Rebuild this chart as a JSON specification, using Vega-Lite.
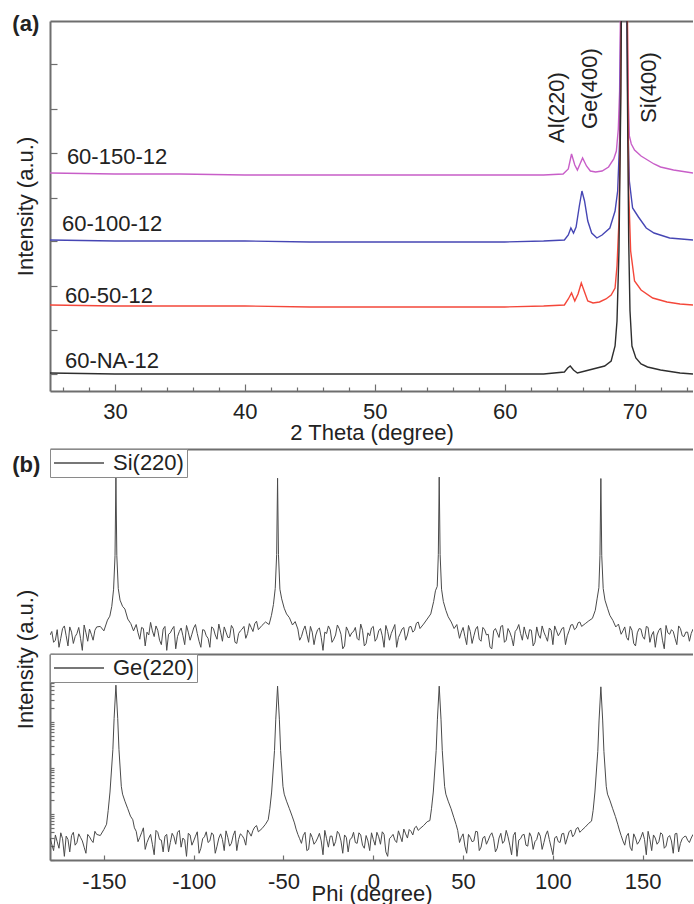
{
  "$schema": "https://vega.github.io/schema/vega-lite/v6.json",
  "padding": {"left": 12, "top": 12, "right": 0, "bottom": 0},
  "spacing": 5,
  "datasets": {
    "xrd": [
      {"s":"60-150-12","tt":25,"i":218},{"s":"60-150-12","tt":30,"i":217},{"s":"60-150-12","tt":35,"i":217},{"s":"60-150-12","tt":40,"i":216},{"s":"60-150-12","tt":45,"i":216},{"s":"60-150-12","tt":50,"i":216},{"s":"60-150-12","tt":55,"i":216},{"s":"60-150-12","tt":60,"i":216},{"s":"60-150-12","tt":63,"i":216},{"s":"60-150-12","tt":64.5,"i":217},{"s":"60-150-12","tt":64.9,"i":222},{"s":"60-150-12","tt":65.15,"i":237},{"s":"60-150-12","tt":65.4,"i":226},{"s":"60-150-12","tt":65.6,"i":221},{"s":"60-150-12","tt":65.8,"i":227},{"s":"60-150-12","tt":66.0,"i":233},{"s":"60-150-12","tt":66.3,"i":225},{"s":"60-150-12","tt":66.6,"i":220},{"s":"60-150-12","tt":67,"i":219},{"s":"60-150-12","tt":67.5,"i":220},{"s":"60-150-12","tt":68,"i":224},{"s":"60-150-12","tt":68.4,"i":232},{"s":"60-150-12","tt":68.6,"i":240},{"s":"60-150-12","tt":68.75,"i":262},{"s":"60-150-12","tt":68.85,"i":300},{"s":"60-150-12","tt":68.95,"i":420},{"s":"60-150-12","tt":69.05,"i":520},{"s":"60-150-12","tt":69.3,"i":520},{"s":"60-150-12","tt":69.4,"i":420},{"s":"60-150-12","tt":69.5,"i":300},{"s":"60-150-12","tt":69.6,"i":255},{"s":"60-150-12","tt":69.75,"i":247},{"s":"60-150-12","tt":70,"i":241},{"s":"60-150-12","tt":70.5,"i":235},{"s":"60-150-12","tt":71,"i":231},{"s":"60-150-12","tt":71.5,"i":227},{"s":"60-150-12","tt":72,"i":224},{"s":"60-150-12","tt":73,"i":221},{"s":"60-150-12","tt":74.5,"i":218},
      {"s":"60-100-12","tt":25,"i":151},{"s":"60-100-12","tt":30,"i":150},{"s":"60-100-12","tt":35,"i":150},{"s":"60-100-12","tt":40,"i":150},{"s":"60-100-12","tt":45,"i":149},{"s":"60-100-12","tt":50,"i":149},{"s":"60-100-12","tt":55,"i":149},{"s":"60-100-12","tt":60,"i":149},{"s":"60-100-12","tt":63,"i":150},{"s":"60-100-12","tt":64.6,"i":151},{"s":"60-100-12","tt":64.9,"i":156},{"s":"60-100-12","tt":65.1,"i":163},{"s":"60-100-12","tt":65.3,"i":158},{"s":"60-100-12","tt":65.5,"i":164},{"s":"60-100-12","tt":65.75,"i":185},{"s":"60-100-12","tt":65.95,"i":200},{"s":"60-100-12","tt":66.15,"i":190},{"s":"60-100-12","tt":66.4,"i":170},{"s":"60-100-12","tt":66.7,"i":158},{"s":"60-100-12","tt":67.1,"i":153},{"s":"60-100-12","tt":67.5,"i":156},{"s":"60-100-12","tt":68.1,"i":163},{"s":"60-100-12","tt":68.5,"i":180},{"s":"60-100-12","tt":68.7,"i":200},{"s":"60-100-12","tt":68.85,"i":250},{"s":"60-100-12","tt":68.95,"i":380},{"s":"60-100-12","tt":69.05,"i":520},{"s":"60-100-12","tt":69.3,"i":520},{"s":"60-100-12","tt":69.4,"i":400},{"s":"60-100-12","tt":69.5,"i":260},{"s":"60-100-12","tt":69.6,"i":210},{"s":"60-100-12","tt":69.85,"i":183},{"s":"60-100-12","tt":70.3,"i":174},{"s":"60-100-12","tt":70.9,"i":163},{"s":"60-100-12","tt":71.5,"i":158},{"s":"60-100-12","tt":72.7,"i":153},{"s":"60-100-12","tt":74.5,"i":151},
      {"s":"60-50-12","tt":25,"i":86},{"s":"60-50-12","tt":30,"i":85},{"s":"60-50-12","tt":35,"i":85},{"s":"60-50-12","tt":40,"i":85},{"s":"60-50-12","tt":45,"i":84},{"s":"60-50-12","tt":50,"i":84},{"s":"60-50-12","tt":55,"i":84},{"s":"60-50-12","tt":60,"i":84},{"s":"60-50-12","tt":63,"i":85},{"s":"60-50-12","tt":64.6,"i":86},{"s":"60-50-12","tt":64.9,"i":92},{"s":"60-50-12","tt":65.15,"i":98},{"s":"60-50-12","tt":65.4,"i":90},{"s":"60-50-12","tt":65.65,"i":97},{"s":"60-50-12","tt":65.9,"i":108},{"s":"60-50-12","tt":66.15,"i":99},{"s":"60-50-12","tt":66.4,"i":90},{"s":"60-50-12","tt":66.8,"i":88},{"s":"60-50-12","tt":67.3,"i":89},{"s":"60-50-12","tt":67.8,"i":92},{"s":"60-50-12","tt":68.2,"i":96},{"s":"60-50-12","tt":68.5,"i":103},{"s":"60-50-12","tt":68.65,"i":125},{"s":"60-50-12","tt":68.8,"i":170},{"s":"60-50-12","tt":68.9,"i":260},{"s":"60-50-12","tt":69.0,"i":420},{"s":"60-50-12","tt":69.1,"i":520},{"s":"60-50-12","tt":69.35,"i":520},{"s":"60-50-12","tt":69.45,"i":380},{"s":"60-50-12","tt":69.55,"i":200},{"s":"60-50-12","tt":69.7,"i":140},{"s":"60-50-12","tt":70,"i":110},{"s":"60-50-12","tt":70.5,"i":101},{"s":"60-50-12","tt":71.4,"i":93},{"s":"60-50-12","tt":72.5,"i":89},{"s":"60-50-12","tt":73.5,"i":87},{"s":"60-50-12","tt":74.5,"i":86},
      {"s":"60-NA-12","tt":25,"i":18},{"s":"60-NA-12","tt":30,"i":17},{"s":"60-NA-12","tt":35,"i":17},{"s":"60-NA-12","tt":40,"i":17},{"s":"60-NA-12","tt":45,"i":17},{"s":"60-NA-12","tt":50,"i":17},{"s":"60-NA-12","tt":55,"i":17},{"s":"60-NA-12","tt":60,"i":17},{"s":"60-NA-12","tt":63,"i":17},{"s":"60-NA-12","tt":64.6,"i":19},{"s":"60-NA-12","tt":64.85,"i":23},{"s":"60-NA-12","tt":65.05,"i":25},{"s":"60-NA-12","tt":65.3,"i":21},{"s":"60-NA-12","tt":65.6,"i":18},{"s":"60-NA-12","tt":66.2,"i":20},{"s":"60-NA-12","tt":67.1,"i":23},{"s":"60-NA-12","tt":67.7,"i":25},{"s":"60-NA-12","tt":68.2,"i":30},{"s":"60-NA-12","tt":68.5,"i":45},{"s":"60-NA-12","tt":68.65,"i":70},{"s":"60-NA-12","tt":68.8,"i":140},{"s":"60-NA-12","tt":68.95,"i":300},{"s":"60-NA-12","tt":69.05,"i":520},{"s":"60-NA-12","tt":69.35,"i":520},{"s":"60-NA-12","tt":69.45,"i":300},{"s":"60-NA-12","tt":69.55,"i":150},{"s":"60-NA-12","tt":69.65,"i":80},{"s":"60-NA-12","tt":69.8,"i":45},{"s":"60-NA-12","tt":70.1,"i":33},{"s":"60-NA-12","tt":70.5,"i":27},{"s":"60-NA-12","tt":71,"i":24},{"s":"60-NA-12","tt":72,"i":21},{"s":"60-NA-12","tt":73.5,"i":18},{"s":"60-NA-12","tt":74.5,"i":17}
    ],
    "names": [
      {"label":"60-150-12","tt":26.3,"i":227},
      {"label":"60-100-12","tt":25.92,"i":160},
      {"label":"60-50-12","tt":26.15,"i":88},
      {"label":"60-NA-12","tt":26.15,"i":23}
    ],
    "peaks": [
      {"label":"Al(220)","tt":64.0,"i":248},
      {"label":"Ge(400)","tt":66.54,"i":262},
      {"label":"Si(400)","tt":71.08,"i":268}
    ],
    "tagA": [{"label":"(a)","tt":22.1,"i":360}],
    "tagB": [{"label":"(b)","phi":-201,"c":9400}],
    "si": [
      {"phi":-180,"c":2.6},{"phi":-178,"c":1.8},{"phi":-176,"c":3.4},{"phi":-174,"c":2.2},{"phi":-172,"c":4.1},{"phi":-170,"c":1.5},{"phi":-168,"c":3.0},{"phi":-166,"c":2.4},{"phi":-164,"c":3.8},{"phi":-162,"c":1.2},{"phi":-160,"c":2.9},{"phi":-158,"c":3.5},{"phi":-156,"c":2.0},{"phi":-154,"c":3.9},
      {"phi":-152,"c":4.0},{"phi":-150,"c":3.2},{"phi":-148,"c":5.5},{"phi":-146.7,"c":6.7},{"phi":-145.6,"c":11},{"phi":-144.6,"c":26},{"phi":-143.8,"c":140},{"phi":-143.3,"c":7300},{"phi":-142.8,"c":140},{"phi":-142,"c":27},{"phi":-141,"c":15},{"phi":-139.6,"c":11},{"phi":-138.3,"c":9.6},{"phi":-136.7,"c":5.8},{"phi":-135,"c":4.6},{"phi":-133.5,"c":3.2},
      {"phi":-132,"c":4.4},{"phi":-130,"c":2.1},{"phi":-128,"c":3.6},{"phi":-126,"c":3.0},{"phi":-124,"c":4.9},{"phi":-122,"c":2.4},{"phi":-120,"c":3.3},{"phi":-118,"c":1.6},{"phi":-116,"c":4.0},{"phi":-114,"c":2.7},{"phi":-112,"c":3.5},{"phi":-110,"c":1.3},{"phi":-108,"c":3.1},{"phi":-106,"c":2.5},{"phi":-104,"c":4.2},{"phi":-102,"c":2.0},{"phi":-100,"c":3.7},{"phi":-98,"c":2.8},{"phi":-96,"c":1.4},{"phi":-94,"c":3.3},{"phi":-92,"c":2.2},{"phi":-90,"c":3.9},{"phi":-88,"c":2.6},{"phi":-86,"c":4.5},{"phi":-84,"c":1.9},{"phi":-82,"c":3.0},{"phi":-80,"c":2.3},{"phi":-78,"c":3.6},{"phi":-76,"c":1.7},{"phi":-74,"c":3.2},{"phi":-72,"c":4.0},{"phi":-70,"c":2.8},{"phi":-68,"c":3.8},{"phi":-66,"c":4.6},{"phi":-64,"c":3.4},
      {"phi":-62,"c":4.2},{"phi":-60,"c":5.0},{"phi":-58,"c":4.4},{"phi":-56.7,"c":7.0},{"phi":-55.6,"c":12},{"phi":-54.6,"c":27},{"phi":-53.8,"c":150},{"phi":-53.3,"c":6900},{"phi":-52.8,"c":150},{"phi":-52,"c":26},{"phi":-51,"c":16},{"phi":-49.6,"c":10},{"phi":-48.3,"c":7.5},{"phi":-46.7,"c":6.2},{"phi":-45,"c":4.3},{"phi":-43.5,"c":5.1},
      {"phi":-42,"c":3.5},{"phi":-40,"c":2.4},{"phi":-38,"c":4.1},{"phi":-36,"c":1.8},{"phi":-34,"c":3.0},{"phi":-32,"c":2.6},{"phi":-30,"c":3.7},{"phi":-28,"c":1.2},{"phi":-26,"c":2.8},{"phi":-24,"c":3.4},{"phi":-22,"c":2.1},{"phi":-20,"c":4.3},{"phi":-18,"c":2.7},{"phi":-16,"c":1.5},{"phi":-14,"c":3.2},{"phi":-12,"c":2.9},{"phi":-10,"c":3.8},{"phi":-8,"c":2.0},{"phi":-6,"c":3.3},{"phi":-4,"c":1.7},{"phi":-2,"c":2.5},{"phi":0,"c":4.0},{"phi":2,"c":2.2},{"phi":4,"c":3.6},{"phi":6,"c":1.4},{"phi":8,"c":3.1},{"phi":10,"c":2.8},{"phi":12,"c":4.4},{"phi":14,"c":2.3},{"phi":16,"c":3.5},{"phi":18,"c":2.0},{"phi":20,"c":3.9},{"phi":22,"c":3.0},{"phi":24,"c":4.7},{"phi":26,"c":3.6},
      {"phi":28,"c":4.5},{"phi":30,"c":5.8},{"phi":32,"c":7.5},{"phi":33.6,"c":14},{"phi":34.6,"c":24},{"phi":35.6,"c":30},{"phi":36.2,"c":150},{"phi":36.7,"c":7300},{"phi":37.2,"c":150},{"phi":38,"c":26},{"phi":39,"c":14},{"phi":40.4,"c":9},{"phi":41.7,"c":6.5},{"phi":43.4,"c":5.0},{"phi":45,"c":3.6},{"phi":46.5,"c":4.4},
      {"phi":48,"c":2.2},{"phi":50,"c":3.8},{"phi":52,"c":1.6},{"phi":54,"c":3.1},{"phi":56,"c":2.5},{"phi":58,"c":4.0},{"phi":60,"c":1.9},{"phi":62,"c":3.4},{"phi":64,"c":2.7},{"phi":66,"c":1.3},{"phi":68,"c":3.6},{"phi":70,"c":2.3},{"phi":72,"c":4.2},{"phi":74,"c":2.0},{"phi":76,"c":3.0},{"phi":78,"c":1.5},{"phi":80,"c":3.5},{"phi":82,"c":2.8},{"phi":84,"c":3.9},{"phi":86,"c":2.1},{"phi":88,"c":3.3},{"phi":90,"c":1.8},{"phi":92,"c":2.6},{"phi":94,"c":4.1},{"phi":96,"c":2.4},{"phi":98,"c":3.7},{"phi":100,"c":1.6},{"phi":102,"c":3.2},{"phi":104,"c":2.9},{"phi":106,"c":3.8},{"phi":108,"c":2.5},{"phi":110,"c":4.3},{"phi":112,"c":3.4},{"phi":114,"c":4.8},{"phi":116,"c":4.0},
      {"phi":118,"c":4.6},{"phi":120,"c":5.3},{"phi":122,"c":6.0},{"phi":123.6,"c":9},{"phi":124.6,"c":16},{"phi":125.6,"c":28},{"phi":126.2,"c":140},{"phi":126.7,"c":6800},{"phi":127.2,"c":140},{"phi":128,"c":27},{"phi":129,"c":15},{"phi":130.4,"c":10},{"phi":131.7,"c":7.0},{"phi":133.4,"c":5.4},{"phi":135,"c":3.9},{"phi":136.5,"c":4.5},
      {"phi":138,"c":2.7},{"phi":140,"c":3.9},{"phi":142,"c":2.0},{"phi":144,"c":3.3},{"phi":146,"c":1.5},{"phi":148,"c":3.6},{"phi":150,"c":2.4},{"phi":152,"c":4.0},{"phi":154,"c":1.8},{"phi":156,"c":3.1},{"phi":158,"c":2.6},{"phi":160,"c":3.7},{"phi":162,"c":1.3},{"phi":164,"c":2.9},{"phi":166,"c":3.4},{"phi":168,"c":2.2},{"phi":170,"c":4.1},{"phi":172,"c":2.5},{"phi":174,"c":3.0},{"phi":176,"c":1.9},{"phi":178,"c":3.5},
      {"phi":-179,"c":3.1},{"phi":-177,"c":2.0},{"phi":-175,"c":1.4},{"phi":-173,"c":3.6},{"phi":-171,"c":2.5},{"phi":-169,"c":3.9},{"phi":-167,"c":1.7},{"phi":-165,"c":2.8},{"phi":-163,"c":2.2},{"phi":-161,"c":4.3},{"phi":-159,"c":1.9},{"phi":-157,"c":2.7},{"phi":-155,"c":3.3},
      {"phi":-131,"c":2.9},{"phi":-129,"c":3.8},{"phi":-127,"c":1.5},{"phi":-125,"c":2.6},{"phi":-123,"c":3.2},{"phi":-121,"c":4.1},{"phi":-119,"c":2.0},{"phi":-117,"c":3.5},{"phi":-115,"c":1.2},{"phi":-113,"c":2.9},{"phi":-111,"c":4.0},{"phi":-109,"c":2.4},{"phi":-107,"c":3.7},{"phi":-105,"c":1.6},{"phi":-103,"c":3.0},{"phi":-101,"c":2.7},{"phi":-99,"c":4.4},{"phi":-97,"c":1.9},{"phi":-95,"c":3.4},{"phi":-93,"c":2.5},{"phi":-91,"c":1.4},{"phi":-89,"c":3.6},{"phi":-87,"c":2.1},{"phi":-85,"c":3.0},{"phi":-83,"c":3.9},{"phi":-81,"c":2.3},{"phi":-79,"c":4.2},{"phi":-77,"c":1.8},{"phi":-75,"c":2.8},{"phi":-73,"c":3.5},{"phi":-71,"c":2.2},{"phi":-69,"c":4.6},{"phi":-67,"c":3.1},{"phi":-65,"c":5.2},
      {"phi":-41,"c":2.0},{"phi":-39,"c":3.3},{"phi":-37,"c":2.7},{"phi":-35,"c":4.0},{"phi":-33,"c":1.6},{"phi":-31,"c":3.4},{"phi":-29,"c":2.3},{"phi":-27,"c":3.0},{"phi":-25,"c":4.1},{"phi":-23,"c":1.8},{"phi":-21,"c":2.6},{"phi":-19,"c":3.6},{"phi":-17,"c":1.3},{"phi":-15,"c":3.9},{"phi":-13,"c":2.4},{"phi":-11,"c":3.1},{"phi":-9,"c":2.2},{"phi":-7,"c":4.5},{"phi":-5,"c":1.5},{"phi":-3,"c":2.9},{"phi":-1,"c":3.7},{"phi":1,"c":1.9},{"phi":3,"c":3.2},{"phi":5,"c":2.5},{"phi":7,"c":4.2},{"phi":9,"c":2.0},{"phi":11,"c":3.5},{"phi":13,"c":1.4},{"phi":15,"c":2.8},{"phi":17,"c":3.8},{"phi":19,"c":2.6},{"phi":21,"c":4.0},{"phi":23,"c":3.3},{"phi":25,"c":5.0},
      {"phi":49,"c":3.0},{"phi":51,"c":2.4},{"phi":53,"c":4.2},{"phi":55,"c":1.7},{"phi":57,"c":3.5},{"phi":59,"c":2.1},{"phi":61,"c":3.8},{"phi":63,"c":2.6},{"phi":65,"c":1.4},{"phi":67,"c":3.2},{"phi":69,"c":2.9},{"phi":71,"c":4.0},{"phi":73,"c":1.8},{"phi":75,"c":3.6},{"phi":77,"c":2.3},{"phi":79,"c":3.1},{"phi":81,"c":4.4},{"phi":83,"c":2.0},{"phi":85,"c":2.7},{"phi":87,"c":3.4},{"phi":89,"c":1.5},{"phi":91,"c":3.9},{"phi":93,"c":2.2},{"phi":95,"c":3.0},{"phi":97,"c":1.9},{"phi":99,"c":3.3},{"phi":101,"c":4.1},{"phi":103,"c":2.5},{"phi":105,"c":3.6},{"phi":107,"c":1.6},{"phi":109,"c":3.2},{"phi":111,"c":4.4},{"phi":113,"c":3.7},{"phi":115,"c":5.0},
      {"phi":139,"c":3.2},{"phi":141,"c":2.3},{"phi":143,"c":4.0},{"phi":145,"c":1.7},{"phi":147,"c":2.9},{"phi":149,"c":3.5},{"phi":151,"c":2.1},{"phi":153,"c":3.8},{"phi":155,"c":2.6},{"phi":157,"c":1.4},{"phi":159,"c":3.3},{"phi":161,"c":2.0},{"phi":163,"c":4.2},{"phi":165,"c":2.7},{"phi":167,"c":3.1},{"phi":169,"c":1.6},{"phi":171,"c":3.6},{"phi":173,"c":2.4},{"phi":175,"c":3.0},{"phi":177,"c":2.8}
    ],
    "ge": [
      {"phi":-180,"c":3.0},{"phi":-178,"c":1.6},{"phi":-176,"c":2.5},{"phi":-174,"c":3.9},{"phi":-172,"c":1.2},{"phi":-170,"c":2.8},{"phi":-168,"c":3.4},{"phi":-166,"c":2.1},{"phi":-164,"c":3.7},{"phi":-162,"c":2.6},{"phi":-160,"c":1.4},{"phi":-158,"c":3.2},{"phi":-156,"c":2.4},{"phi":-154,"c":3.6},
      {"phi":-152,"c":3.4},{"phi":-150,"c":4.6},{"phi":-148.5,"c":6.0},{"phi":-147.6,"c":12},{"phi":-146.6,"c":30},{"phi":-145.0,"c":250},{"phi":-144.3,"c":1200},{"phi":-143.3,"c":6300},{"phi":-142.3,"c":1200},{"phi":-141.6,"c":250},{"phi":-140.3,"c":40},{"phi":-139.6,"c":27},{"phi":-138.3,"c":19},{"phi":-136.7,"c":13},{"phi":-135.2,"c":9},{"phi":-133.9,"c":7.5},{"phi":-133,"c":5.0},
      {"phi":-132,"c":4.2},{"phi":-130,"c":3.1},{"phi":-128,"c":5.0},{"phi":-126,"c":2.4},{"phi":-124,"c":3.6},{"phi":-122,"c":1.3},{"phi":-120,"c":4.0},{"phi":-118,"c":2.7},{"phi":-116,"c":3.3},{"phi":-114,"c":1.5},{"phi":-112,"c":3.8},{"phi":-110,"c":2.2},{"phi":-108,"c":4.4},{"phi":-106,"c":3.0},{"phi":-104,"c":1.2},{"phi":-102,"c":3.5},{"phi":-100,"c":2.6},{"phi":-98,"c":4.1},{"phi":-96,"c":1.8},{"phi":-94,"c":3.2},{"phi":-92,"c":2.4},{"phi":-90,"c":3.9},{"phi":-88,"c":1.4},{"phi":-86,"c":3.0},{"phi":-84,"c":2.8},{"phi":-82,"c":4.3},{"phi":-80,"c":2.0},{"phi":-78,"c":3.4},{"phi":-76,"c":1.6},{"phi":-74,"c":3.7},{"phi":-72,"c":2.9},{"phi":-70,"c":4.5},{"phi":-68,"c":3.3},{"phi":-66,"c":5.2},{"phi":-64,"c":4.1},
      {"phi":-62,"c":4.8},{"phi":-60,"c":6.0},{"phi":-58.5,"c":7.5},{"phi":-57.6,"c":13},{"phi":-56.6,"c":30},{"phi":-55.0,"c":240},{"phi":-54.3,"c":1150},{"phi":-53.3,"c":6000},{"phi":-52.3,"c":1150},{"phi":-51.6,"c":240},{"phi":-50.3,"c":40},{"phi":-49.6,"c":27},{"phi":-48.3,"c":19},{"phi":-46.7,"c":13},{"phi":-45.2,"c":9},{"phi":-43.9,"c":6.4},{"phi":-43,"c":4.7},
      {"phi":-42,"c":3.6},{"phi":-40,"c":2.3},{"phi":-38,"c":4.0},{"phi":-36,"c":1.7},{"phi":-34,"c":3.1},{"phi":-32,"c":2.5},{"phi":-30,"c":3.8},{"phi":-28,"c":1.3},{"phi":-26,"c":2.9},{"phi":-24,"c":3.3},{"phi":-22,"c":2.0},{"phi":-20,"c":4.2},{"phi":-18,"c":2.6},{"phi":-16,"c":3.5},{"phi":-14,"c":1.5},{"phi":-12,"c":3.0},{"phi":-10,"c":2.4},{"phi":-8,"c":3.9},{"phi":-6,"c":2.1},{"phi":-4,"c":3.4},{"phi":-2,"c":1.6},{"phi":0,"c":2.8},{"phi":2,"c":4.0},{"phi":4,"c":2.2},{"phi":6,"c":3.6},{"phi":8,"c":1.2},{"phi":10,"c":3.2},{"phi":12,"c":2.7},{"phi":14,"c":4.3},{"phi":16,"c":2.5},{"phi":18,"c":3.7},{"phi":20,"c":4.6},{"phi":22,"c":3.5},{"phi":24,"c":5.4},{"phi":26,"c":4.8},
      {"phi":28,"c":5.6},{"phi":30,"c":6.8},{"phi":31.5,"c":7.2},{"phi":32.4,"c":13},{"phi":33.4,"c":30},{"phi":35.0,"c":240},{"phi":35.7,"c":1150},{"phi":36.7,"c":6000},{"phi":37.7,"c":1150},{"phi":38.4,"c":240},{"phi":39.7,"c":40},{"phi":40.4,"c":27},{"phi":41.7,"c":19},{"phi":43.3,"c":13},{"phi":44.8,"c":8.5},{"phi":46.1,"c":5.9},{"phi":47,"c":4.4},
      {"phi":48,"c":2.4},{"phi":50,"c":3.7},{"phi":52,"c":1.4},{"phi":54,"c":3.1},{"phi":56,"c":2.6},{"phi":58,"c":4.1},{"phi":60,"c":1.9},{"phi":62,"c":3.3},{"phi":64,"c":2.7},{"phi":66,"c":3.9},{"phi":68,"c":1.5},{"phi":70,"c":3.0},{"phi":72,"c":2.3},{"phi":74,"c":4.4},{"phi":76,"c":2.1},{"phi":78,"c":3.4},{"phi":80,"c":1.2},{"phi":82,"c":2.9},{"phi":84,"c":3.6},{"phi":86,"c":2.0},{"phi":88,"c":3.2},{"phi":90,"c":2.5},{"phi":92,"c":4.0},{"phi":94,"c":1.7},{"phi":96,"c":3.5},{"phi":98,"c":2.8},{"phi":100,"c":1.3},{"phi":102,"c":3.3},{"phi":104,"c":2.4},{"phi":106,"c":3.8},{"phi":108,"c":3.0},{"phi":110,"c":4.5},{"phi":112,"c":3.6},{"phi":114,"c":5.1},{"phi":116,"c":4.4},
      {"phi":118,"c":5.2},{"phi":120,"c":6.3},{"phi":121.5,"c":7.0},{"phi":122.4,"c":12},{"phi":123.4,"c":30},{"phi":125.0,"c":230},{"phi":125.7,"c":1100},{"phi":126.7,"c":5800},{"phi":127.7,"c":1100},{"phi":128.4,"c":230},{"phi":129.7,"c":40},{"phi":130.4,"c":27},{"phi":131.7,"c":20},{"phi":133.3,"c":13},{"phi":134.8,"c":8.8},{"phi":136.1,"c":6.0},{"phi":137,"c":4.5},
      {"phi":138,"c":3.4},{"phi":140,"c":2.1},{"phi":142,"c":3.8},{"phi":144,"c":1.6},{"phi":146,"c":3.0},{"phi":148,"c":2.5},{"phi":150,"c":4.0},{"phi":152,"c":1.3},{"phi":154,"c":2.8},{"phi":156,"c":3.5},{"phi":158,"c":2.2},{"phi":160,"c":3.9},{"phi":162,"c":1.8},{"phi":164,"c":3.1},{"phi":166,"c":2.6},{"phi":168,"c":3.7},{"phi":170,"c":1.5},{"phi":172,"c":2.9},{"phi":174,"c":3.3},{"phi":176,"c":2.4},{"phi":178,"c":3.6},
      {"phi":-179,"c":2.2},{"phi":-177,"c":3.5},{"phi":-175,"c":1.8},{"phi":-173,"c":2.9},{"phi":-171,"c":3.3},{"phi":-169,"c":1.5},{"phi":-167,"c":4.0},{"phi":-165,"c":2.4},{"phi":-163,"c":3.1},{"phi":-161,"c":1.9},{"phi":-159,"c":3.6},{"phi":-157,"c":2.7},{"phi":-155,"c":4.2},
      {"phi":-131,"c":2.5},{"phi":-129,"c":3.9},{"phi":-127,"c":1.7},{"phi":-125,"c":3.0},{"phi":-123,"c":2.2},{"phi":-121,"c":4.4},{"phi":-119,"c":2.8},{"phi":-117,"c":1.5},{"phi":-115,"c":3.6},{"phi":-113,"c":2.4},{"phi":-111,"c":3.2},{"phi":-109,"c":4.0},{"phi":-107,"c":1.9},{"phi":-105,"c":2.7},{"phi":-103,"c":3.8},{"phi":-101,"c":2.1},{"phi":-99,"c":3.3},{"phi":-97,"c":1.4},{"phi":-95,"c":2.9},{"phi":-93,"c":4.1},{"phi":-91,"c":2.6},{"phi":-89,"c":3.5},{"phi":-87,"c":2.0},{"phi":-85,"c":3.7},{"phi":-83,"c":1.6},{"phi":-81,"c":3.1},{"phi":-79,"c":2.3},{"phi":-77,"c":4.3},{"phi":-75,"c":2.8},{"phi":-73,"c":3.4},{"phi":-71,"c":2.1},{"phi":-69,"c":3.9},{"phi":-67,"c":4.4},{"phi":-65,"c":5.6},
      {"phi":-41,"c":2.9},{"phi":-39,"c":3.4},{"phi":-37,"c":1.6},{"phi":-35,"c":3.8},{"phi":-33,"c":2.2},{"phi":-31,"c":3.0},{"phi":-29,"c":2.6},{"phi":-27,"c":4.4},{"phi":-25,"c":1.9},{"phi":-23,"c":3.3},{"phi":-21,"c":2.5},{"phi":-19,"c":3.7},{"phi":-17,"c":1.4},{"phi":-15,"c":3.1},{"phi":-13,"c":2.8},{"phi":-11,"c":4.0},{"phi":-9,"c":2.3},{"phi":-7,"c":3.5},{"phi":-5,"c":1.8},{"phi":-3,"c":2.6},{"phi":-1,"c":3.9},{"phi":1,"c":2.1},{"phi":3,"c":3.2},{"phi":5,"c":4.1},{"phi":7,"c":1.5},{"phi":9,"c":2.9},{"phi":11,"c":3.6},{"phi":13,"c":2.4},{"phi":15,"c":3.3},{"phi":17,"c":4.7},{"phi":19,"c":3.0},{"phi":21,"c":4.2},{"phi":23,"c":5.0},{"phi":25,"c":4.4},
      {"phi":49,"c":3.1},{"phi":51,"c":2.0},{"phi":53,"c":3.6},{"phi":55,"c":2.5},{"phi":57,"c":4.2},{"phi":59,"c":1.6},{"phi":61,"c":3.0},{"phi":63,"c":2.2},{"phi":65,"c":3.4},{"phi":67,"c":2.9},{"phi":69,"c":1.8},{"phi":71,"c":3.8},{"phi":73,"c":2.6},{"phi":75,"c":3.2},{"phi":77,"c":1.3},{"phi":79,"c":4.0},{"phi":81,"c":2.7},{"phi":83,"c":3.5},{"phi":85,"c":2.1},{"phi":87,"c":3.9},{"phi":89,"c":1.7},{"phi":91,"c":2.8},{"phi":93,"c":3.3},{"phi":95,"c":2.4},{"phi":97,"c":4.3},{"phi":99,"c":1.9},{"phi":101,"c":3.0},{"phi":103,"c":2.5},{"phi":105,"c":3.7},{"phi":107,"c":2.2},{"phi":109,"c":4.1},{"phi":111,"c":3.2},{"phi":113,"c":4.8},{"phi":115,"c":4.0},
      {"phi":139,"c":2.6},{"phi":141,"c":3.3},{"phi":143,"c":1.9},{"phi":145,"c":3.7},{"phi":147,"c":2.2},{"phi":149,"c":3.1},{"phi":151,"c":2.8},{"phi":153,"c":4.2},{"phi":155,"c":1.6},{"phi":157,"c":3.0},{"phi":159,"c":2.5},{"phi":161,"c":3.6},{"phi":163,"c":2.0},{"phi":165,"c":3.4},{"phi":167,"c":1.4},{"phi":169,"c":3.8},{"phi":171,"c":2.3},{"phi":173,"c":3.2},{"phi":175,"c":2.7},{"phi":177,"c":3.0}
    ]
  },
  "vconcat": [
    {
      "width": 643,
      "height": 370,
      "layer": [
        {
          "data": {"name": "xrd"},
          "mark": {"type": "line", "clip": true, "strokeWidth": 1.4},
          "encoding": {
            "x": {"field": "tt", "type": "quantitative", "scale": {"domain": [25, 74.5], "nice": false, "zero": false},
                  "axis": {"orient": "bottom", "values": [30, 40, 50, 60, 70], "tickSize": -7, "labelPadding": 17, "title": "2 Theta (degree)", "titlePadding": 0}},
            "y": {"field": "i", "type": "quantitative", "scale": {"domain": [0, 370], "nice": false, "zero": false},
                  "axis": {"orient": "left", "values": [17, 61, 105, 150, 193, 238, 282, 327], "labels": false, "tickSize": -7, "title": "Intensity (a.u.)", "titlePadding": 12}},
            "color": {"field": "s", "type": "nominal", "scale": {"domain": ["60-NA-12", "60-50-12", "60-100-12", "60-150-12"], "range": ["#2e2e2e", "#f4473a", "#4646b4", "#c85ec8"]}, "legend": null}
          }
        },
        {
          "data": {"name": "names"},
          "mark": {"type": "text", "align": "left", "baseline": "alphabetic", "fontSize": 22, "color": "#222222"},
          "encoding": {
            "x": {"field": "tt", "type": "quantitative", "scale": {"domain": [25, 74.5], "nice": false, "zero": false},
                  "axis": {"orient": "bottom", "values": [26, 28, 32, 34, 36, 38, 42, 44, 46, 48, 52, 54, 56, 58, 62, 64, 66, 68, 72, 74], "tickSize": -4, "labels": false, "domain": false, "title": null}},
            "y": {"field": "i", "type": "quantitative"},
            "text": {"field": "label"}
          }
        },
        {
          "data": {"name": "peaks"},
          "mark": {"type": "text", "align": "left", "baseline": "middle", "angle": 270, "fontSize": 22, "color": "#222222"},
          "encoding": {
            "x": {"field": "tt", "type": "quantitative", "scale": {"domain": [25, 74.5], "nice": false, "zero": false},
                  "axis": {"orient": "top", "labels": false, "ticks": false, "title": null}},
            "y": {"field": "i", "type": "quantitative"},
            "text": {"field": "label"}
          }
        },
        {
          "data": {"name": "tagA"},
          "mark": {"type": "text", "align": "left", "baseline": "alphabetic", "fontSize": 22, "fontWeight": "bold", "color": "#222222"},
          "encoding": {
            "x": {"field": "tt", "type": "quantitative", "scale": {"domain": [25, 74.5], "nice": false, "zero": false}, "axis": null},
            "y": {"field": "i", "type": "quantitative"},
            "text": {"field": "label"}
          }
        }
      ],
      "resolve": {"axis": {"x": "independent"}}
    },
    {
      "spacing": 0,
      "bounds": "flush",
      "vconcat": [
        {
          "width": 643,
          "height": 205,
          "layer": [
            {
              "data": {"name": "si"},
              "mark": {"type": "line", "clip": true, "strokeWidth": 1},
              "encoding": {
                "x": {"field": "phi", "type": "quantitative", "scale": {"domain": [-180, 178], "nice": false, "zero": false},
                      "axis": {"orient": "bottom", "labels": false, "ticks": false, "title": null}},
                "y": {"field": "c", "type": "quantitative", "scale": {"type": "log", "domain": [1, 30000], "nice": false},
                      "axis": {"labels": false, "tickSize": -4, "tickCount": 10, "title": null}},
                "color": {"datum": "Si(220)", "scale": {"range": ["#4a4a4a"]},
                          "legend": {"orient": "top-left", "offset": 0, "title": null, "symbolType": "M-1,0H4", "symbolSize": 400, "symbolStrokeWidth": 1.6, "labelOffset": 38, "labelFontSize": 22, "labelColor": "#222222", "labelFont": "Liberation Sans", "strokeColor": "#8a8a8a", "fillColor": "#ffffff", "padding": 3, "cornerRadius": 0,
                                     "encoding": {"symbols": {"update": {"stroke": {"value": "#a3a3a3"}}}}}}
              }
            },
            {
              "data": {"name": "tagB"},
              "mark": {"type": "text", "align": "left", "baseline": "alphabetic", "fontSize": 22, "fontWeight": "bold", "color": "#222222"},
              "encoding": {
                "x": {"field": "phi", "type": "quantitative", "scale": {"domain": [-180, 178], "nice": false, "zero": false},
                      "axis": {"orient": "top", "labels": false, "ticks": false, "title": null}},
                "y": {"field": "c", "type": "quantitative", "axis": null},
                "text": {"field": "label"}
              }
            }
          ],
          "resolve": {"axis": {"x": "independent"}}
        },
        {
          "width": 643,
          "height": 206,
          "data": {"name": "ge"},
          "mark": {"type": "line", "clip": true, "strokeWidth": 1},
          "encoding": {
            "x": {"field": "phi", "type": "quantitative", "scale": {"domain": [-180, 178], "nice": false, "zero": false},
                  "axis": {"orient": "bottom", "values": [-150, -100, -50, 0, 50, 100, 150], "tickSize": -5, "labelPadding": 16, "labelExpr": "replace(datum.label, '\u2212', '-')", "title": "Phi (degree)", "titlePadding": -9}},
            "y": {"field": "c", "type": "quantitative", "scale": {"type": "log", "domain": [1, 30000], "nice": false},
                  "axis": {"labels": false, "tickSize": -4, "tickCount": 10, "title": "Intensity (a.u.)", "titlePadding": 12, "titleY": 5, "titleAlign": "center"}},
            "color": {"datum": "Ge(220)", "scale": {"range": ["#4a4a4a"]},
                      "legend": {"orient": "top-left", "offset": 0, "title": null, "symbolType": "M-1,0H4", "symbolSize": 400, "symbolStrokeWidth": 1.6, "labelOffset": 38, "labelFontSize": 22, "labelColor": "#222222", "labelFont": "Liberation Sans", "strokeColor": "#8a8a8a", "fillColor": "#ffffff", "padding": 3, "cornerRadius": 0,
                                 "encoding": {"symbols": {"update": {"stroke": {"value": "#a3a3a3"}}}}}}
          }
        }
      ],
      "resolve": {"scale": {"color": "independent"}, "legend": {"color": "independent"}}
    }
  ],
  "resolve": {"scale": {"color": "independent"}, "legend": {"color": "independent"}},
  "config": {
    "font": "Liberation Sans",
    "view": {"stroke": null},
    "axis": {"domainColor": "#6e6e6e", "domainWidth": 2, "tickColor": "#6e6e6e", "tickWidth": 1.2, "labelFont": "Liberation Sans", "labelFontSize": 22, "labelColor": "#222222", "titleFont": "Liberation Sans", "titleFontSize": 22, "titleFontWeight": "normal", "titleColor": "#222222", "grid": false}
  }
}
